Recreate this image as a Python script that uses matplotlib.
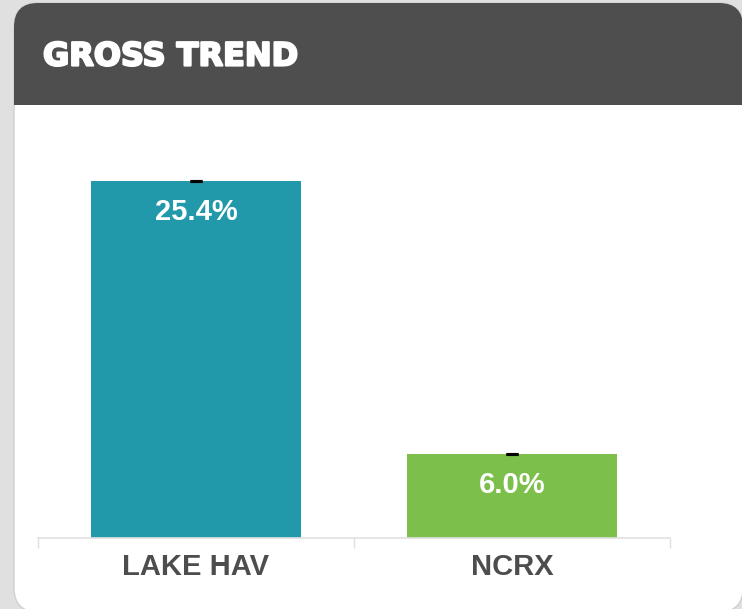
import matplotlib
matplotlib.use("Agg")
import matplotlib.pyplot as plt
import matplotlib.patheffects as pe
from matplotlib.patches import FancyBboxPatch, Rectangle

categories = ["LAKE HAV", "NCRX"]
values = [25.4, 6.0]
errors = [0.0, 0.0]
bar_colors = ["#2199aa", "#7cbf4b"]
title = "GROSS TREND"

W, H = 742, 609
fig = plt.figure(figsize=(W / 100, H / 100), dpi=100)
fig.patch.set_facecolor("#e0e0e0")

# background card in pixel coordinates
bg = fig.add_axes([0, 0, 1, 1])
bg.set_xlim(0, W)
bg.set_ylim(H, 0)
bg.axis("off")
r = 24
cx0, cy0, cx1, cy1 = 14, 3, 743, 612
bg.add_patch(FancyBboxPatch((cx0 + r, cy0 + r), cx1 - cx0 - 2 * r, cy1 - cy0 - 2 * r,
                            boxstyle=f"round,pad={r}", fc="white", ec="#d0d0d0", lw=1))
bg.add_patch(FancyBboxPatch((cx0 + r, cy0 + r), cx1 - cx0 - 2 * r, 102 - 2 * r,
                            boxstyle=f"round,pad={r}", fc="#4e4e4e", ec="none"))
bg.add_patch(Rectangle((cx0, 55), cx1 - cx0, 50, fc="#4e4e4e", ec="none"))
bg.text(43, 57, title, color="white", fontsize=23, fontweight="heavy",
        family="DejaVu Sans", va="center", ha="left",
        path_effects=[pe.withStroke(linewidth=1.6, foreground="white")])

# chart axes: x 38..670, y baseline 538, top 130
ax = fig.add_axes([38 / W, 1 - 538 / H, (670 - 38) / W, (538 - 130) / H])
ax.set_facecolor("none")
x = list(range(len(categories)))
bars = ax.bar(x, values, width=0.667, color=bar_colors, zorder=2)
ax.errorbar(x, values, yerr=errors, fmt="none", ecolor="black",
            capsize=4.3, capthick=2.2, elinewidth=0, zorder=3)
ax.set_xlim(-0.5, 1.5)
ax.set_ylim(0, 29.0)
for xi, v in zip(x, values):
    ax.annotate(f"{v:.1f}%", (xi, v), xytext=(0, -31), textcoords="offset pixels",
                ha="center", va="center", color="white", fontsize=21,
                fontweight="bold", family="Liberation Sans", zorder=4)
ax.set_xticks([-0.5, 0.5, 1.5])
ax.set_xticklabels([])
ax.set_xticks(x, minor=True)
ax.set_xticklabels(categories, minor=True, fontsize=21, fontweight="bold",
                   family="Liberation Sans", color="#4d4d4d")
ax.tick_params(axis="x", which="major", length=7, color="#e0e0e0", width=1)
ax.tick_params(axis="x", which="minor", length=0, pad=11)
ax.set_yticks([])
for s in ["top", "right", "left"]:
    ax.spines[s].set_visible(False)
ax.spines["bottom"].set_color("#e0e0e0")
ax.spines["bottom"].set_linewidth(1.2)

fig.savefig("out.png", dpi=100, facecolor=fig.get_facecolor())
